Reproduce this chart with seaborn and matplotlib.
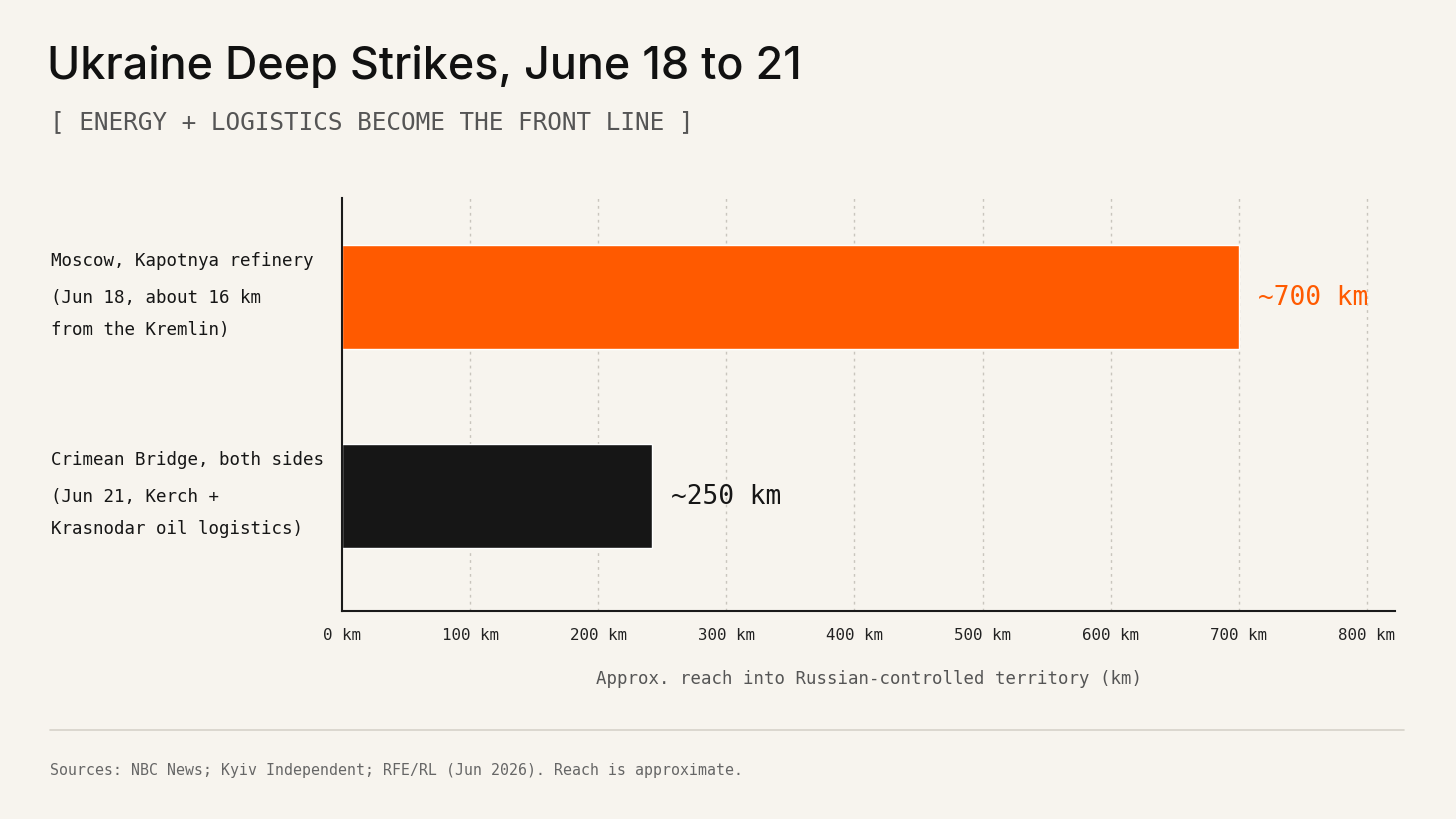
import seaborn as sns
import matplotlib.pyplot as plt
import matplotlib.transforms as mtransforms

# data
categories = ['Moscow, Kapotnya refinery', 'Crimean Bridge, both sides']
details = [['(Jun 18, about 16 km', 'from the Kremlin)'],
           ['(Jun 21, Kerch +', 'Krasnodar oil logistics)']]
reach_km = [700, 242]
value_labels = ['~700 km', '~250 km']
bar_colors = ['#FF5A00', '#161616']
label_colors = ['#FF5A00', '#161616']
x_ticks = [0, 100, 200, 300, 400, 500, 600, 700, 800]

BG = '#F7F4EE'
MONO = 'DejaVu Sans Mono'

sns.set_style(style='white')
plt.rcParams['font.family'] = [MONO]

fig = plt.figure(figsize=(14.56, 8.19), dpi=100, facecolor=BG)
ax = fig.add_axes([342 / 1456, 1 - 611 / 819, (1395 - 342) / 1456, (611 - 198) / 819])
ax.set_facecolor(BG)

sns.barplot(x=reach_km, y=categories, hue=categories, palette=bar_colors,
            legend=False, orient='h', width=0.52, saturation=1, ax=ax)

ax.set_xlim(0, 822)
ax.set_ylim(1.578, -0.497)
ax.set_xticks(x_ticks)
ax.set_xticklabels(['{} km'.format(t) for t in x_ticks], fontsize=11.4,
                   color='#222222', family=MONO)
ax.set_yticks([])
ax.set_ylabel('')
ax.tick_params(axis='x', direction='out', length=6, width=1.2,
               color='#222222', pad=6)
ax.set_xlabel('Approx. reach into Russian-controlled territory (km)',
              fontsize=12.5, color='#555555', labelpad=20, family=MONO)

for side in ['top', 'right']:
    ax.spines[side].set_visible(False)
for side in ['left', 'bottom']:
    ax.spines[side].set_color('#1A1A1A')
    ax.spines[side].set_linewidth(1.5)

for t in x_ticks[1:]:
    ax.axvline(t, color='#C9C5BD', linestyle=(0, (2, 3)), linewidth=1, zorder=0)

# value labels
for i, (v, lab, c) in enumerate(zip(reach_km, value_labels, label_colors)):
    ax.annotate(lab, xy=(v, i), xytext=(14, -1), textcoords='offset points',
                ha='left', va='center', fontsize=18.8, color=c, family=MONO)

# category labels
trans = mtransforms.blended_transform_factory(fig.transFigure, ax.transData)
for i, (name, det) in enumerate(zip(categories, details)):
    ax.annotate(name, xy=(51 / 1456, i), xycoords=trans, xytext=(0, 26),
                textcoords='offset points', ha='left', va='center',
                fontsize=12.6, color='#161616', family=MONO, annotation_clip=False)
    for j, line in enumerate(det):
        ax.annotate(line, xy=(51 / 1456, i), xycoords=trans, xytext=(0, -1 - 23 * j),
                    textcoords='offset points', ha='left', va='center',
                    fontsize=12.6, color='#161616', family=MONO, annotation_clip=False)

# title block
fig.text(47 / 1456, 1 - 66 / 819, 'Ukraine Deep Strikes, June 18 to 21',
         fontsize=32.3, fontweight='medium', family='Inter', color='#111111',
         va='center', ha='left')
fig.text(50 / 1456, 1 - 122 / 819, '[ ENERGY + LOGISTICS BECOME THE FRONT LINE ]',
         fontsize=17.6, color='#555555', va='center', ha='left', family=MONO)

# footer
fig.add_artist(plt.Line2D([50 / 1456, 1404 / 1456], [1 - 730 / 819, 1 - 730 / 819],
                          color='#D6D2C9', linewidth=1.2))
fig.text(50 / 1456, 1 - 771 / 819,
         'Sources: NBC News; Kyiv Independent; RFE/RL (Jun 2026). Reach is approximate.',
         fontsize=10.7, color='#666666', va='center', ha='left', family=MONO)

fig.savefig('out.png', dpi=100, facecolor=BG)
